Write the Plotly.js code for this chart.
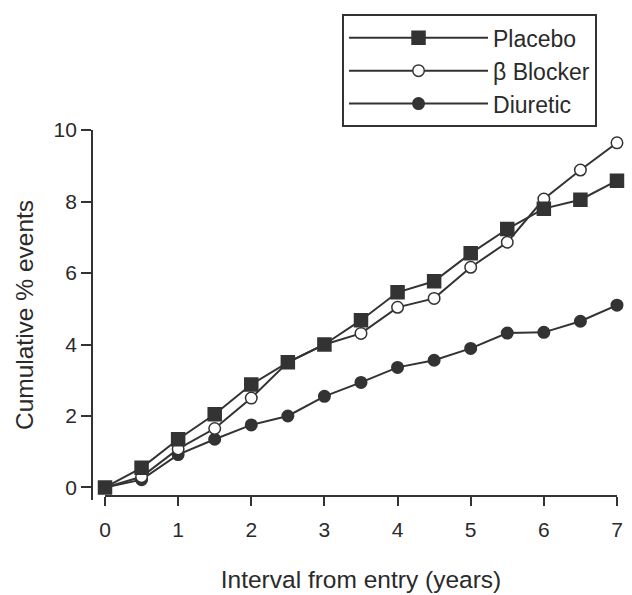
<!DOCTYPE html>
<html><head><meta charset="utf-8">
<script src="https://cdn.plot.ly/plotly-3.0.1.min.js"></script>
<style>body{margin:0;background:#fff}</style>
</head><body><div id="chart" style="width:632px;height:595px"></div>
<script>
const years = [0, 0.5, 1, 1.5, 2, 2.5, 3, 3.5, 4, 4.5, 5, 5.5, 6, 6.5, 7];
const placebo = [0, 0.55, 1.35, 2.05, 2.88, 3.5, 4.0, 4.68, 5.46, 5.77, 6.55, 7.23, 7.8, 8.05, 8.58];
const betaBlocker = [0, 0.3, 1.08, 1.65, 2.5, 3.5, 4.0, 4.31, 5.04, 5.29, 6.16, 6.86, 8.07, 8.88, 9.64];
const diuretic = [0, 0.22, 0.92, 1.35, 1.75, 2.0, 2.55, 2.94, 3.36, 3.56, 3.89, 4.32, 4.34, 4.65, 5.1];
const seriesNames = ["Placebo", "β Blocker", "Diuretic"];
const xTickVals = [0, 1, 2, 3, 4, 5, 6, 7];
const yTickVals = [0, 2, 4, 6, 8, 10];

const ink = '#333333';
const family = '"Liberation Sans", Arial, sans-serif';
const tickFont = {family: family, size: 21, color: '#2a2a2a'};
const titleFont = {family: family, size: 24.5, color: '#2a2a2a'};

function series(name, y, symbol, fill) {
  return {
    x: years, y: y, name: name, type: 'scatter', mode: 'lines+markers',
    legendgroup: name, cliponaxis: false,
    line: {color: ink, width: 2},
    marker: {symbol: symbol, size: symbol === 'square' ? 13 : 11.5, color: fill,
             line: {color: ink, width: 1.5}}
  };
}

const traces = [
  series(seriesNames[2], diuretic, 'circle', ink),
  series(seriesNames[1], betaBlocker, 'circle', '#ffffff'),
  series(seriesNames[0], placebo, 'square', ink)
];

const layout = {
  width: 632, height: 595,
  paper_bgcolor: '#ffffff', plot_bgcolor: '#ffffff',
  font: tickFont,
  margin: {l: 70, r: 10, t: 10, b: 50},
  showlegend: true,
  legend: {
    x: 0.4928, y: 0.992, xanchor: 'left', yanchor: 'top',
    bordercolor: ink, borderwidth: 2, bgcolor: '#ffffff',
    traceorder: 'reversed', tracegroupgap: 0,
    font: {family: family, size: 23, color: '#2a2a2a'},
    itemwidth: 139, entrywidth: 264
  },
  xaxis: {
    domain: [0.0634, 0.9909], range: [0, 7],
    anchor: 'free', position: 0.0916,
    tickvals: xTickVals, ticks: 'outside', ticklen: 9, tickwidth: 2, tickcolor: ink,
    ticklabelstandoff: 6,
    showline: true, linecolor: ink, linewidth: 2,
    showgrid: false, zeroline: false,
    tickfont: tickFont,
    title: {text: 'Interval from entry (years)', font: titleFont, standoff: 30}
  },
  yaxis: {
    domain: [0.0841, 0.7757], range: [-0.35, 10],
    anchor: 'free', position: 0.0399,
    tickvals: yTickVals, ticks: 'outside', ticklen: 10, tickwidth: 2, tickcolor: ink,
    showline: true, linecolor: ink, linewidth: 2,
    showgrid: false, zeroline: false,
    tickfont: tickFont,
    title: {text: 'Cumulative % events', font: titleFont, standoff: 12}
  }
};

Plotly.newPlot('chart', traces, layout, {displayModeBar: false, staticPlot: true});
</script></body></html>
